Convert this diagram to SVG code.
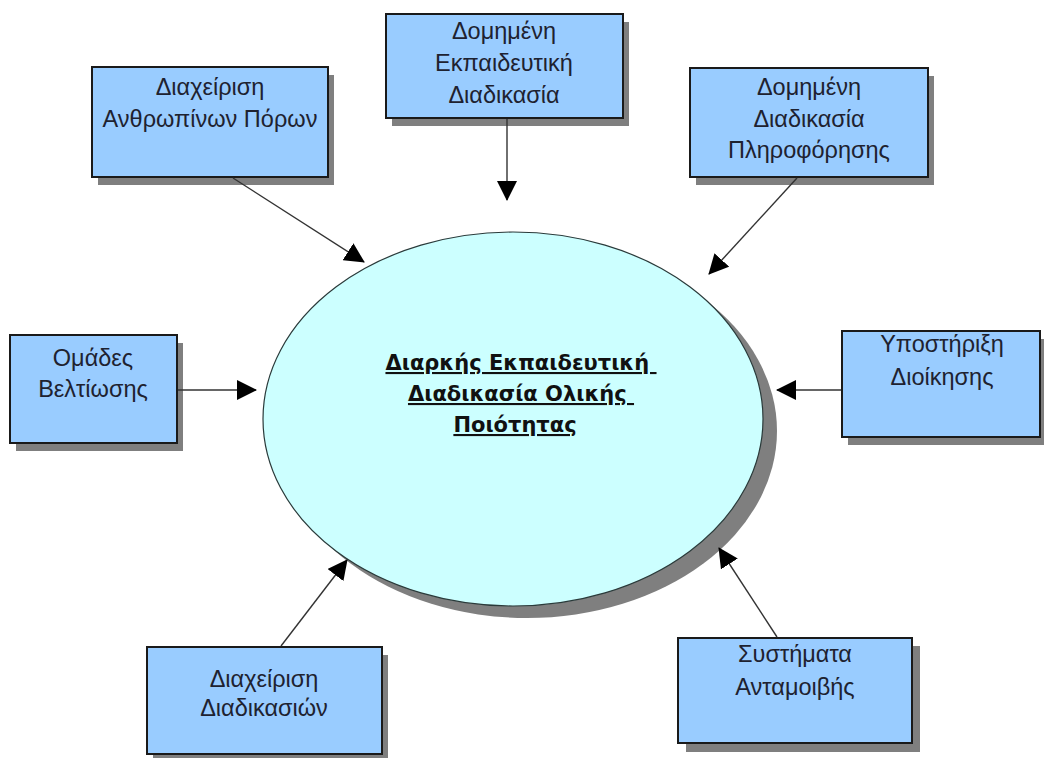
<svg xmlns="http://www.w3.org/2000/svg" width="1044" height="758" viewBox="0 0 1044 758">
  <style>
    .box { fill: #99ccff; stroke: #1a1a1a; stroke-width: 2; }
    .shadow { fill: #7f7f7f; }
    .label { font-family: "Liberation Sans", Arial, sans-serif; font-size: 23.5px; fill: #1e2230; text-anchor: middle; }
    .core { font-family: "DejaVu Sans", Verdana, sans-serif; font-size: 21px; font-weight: bold; fill: #111; text-anchor: middle; text-decoration: underline; white-space: pre; }
    .link { stroke: #333; stroke-width: 1.4; fill: none; marker-end: url(#arrow); }
  </style>
  <defs>
    <marker id="arrow" markerWidth="20" markerHeight="20" viewBox="0 0 20 20" refX="19" refY="10" orient="auto" markerUnits="userSpaceOnUse">
      <path d="M0,0 L20,10 L0,20 Z" fill="#000"/>
    </marker>
  </defs>
  <rect width="1044" height="758" fill="#fff"/>

  <!-- central process -->
  <g id="core">
    <ellipse cx="527" cy="431" rx="250" ry="187" class="shadow"/>
    <ellipse cx="513" cy="419" rx="250" ry="187" fill="#ccffff" stroke="#2a3a3a" stroke-width="1.2"/>
    <text class="core" x="521" y="370">Διαρκής Εκπαιδευτική </text>
    <text class="core" x="521" y="401">Διαδικασία Ολικής </text>
    <text class="core" x="515" y="432">Ποιότητας</text>
  </g>

  <g id="hr">
    <rect x="98" y="75" width="236" height="110" class="shadow"/>
    <rect x="92" y="67" width="236" height="110" class="box"/>
    <text class="label" x="210" y="95">Διαχείριση</text>
    <text class="label" x="210" y="127">Ανθρωπίνων Πόρων</text>
  </g>

  <g id="structured-training">
    <rect x="392" y="22" width="237" height="104" class="shadow"/>
    <rect x="386" y="14" width="237" height="104" class="box"/>
    <text class="label" x="504" y="39">Δομημένη</text>
    <text class="label" x="504" y="71">Εκπαιδευτική</text>
    <text class="label" x="504" y="103">Διαδικασία</text>
  </g>

  <g id="structured-information">
    <rect x="696" y="76" width="238" height="109" class="shadow"/>
    <rect x="690" y="68" width="238" height="109" class="box"/>
    <text class="label" x="809" y="95">Δομημένη</text>
    <text class="label" x="809" y="127">Διαδικασία</text>
    <text class="label" x="809" y="158">Πληροφόρησης</text>
  </g>

  <g id="improvement-teams">
    <rect x="16" y="343" width="167" height="108" class="shadow"/>
    <rect x="10" y="335" width="167" height="108" class="box"/>
    <text class="label" x="93" y="366">Ομάδες</text>
    <text class="label" x="93" y="397">Βελτίωσης</text>
  </g>

  <g id="management-support">
    <rect x="848" y="339" width="200" height="106" class="shadow"/>
    <rect x="842" y="331" width="198" height="106" class="box"/>
    <text class="label" x="942" y="352">Υποστήριξη</text>
    <text class="label" x="942" y="385">Διοίκησης</text>
  </g>

  <g id="process-management">
    <rect x="153" y="655" width="235" height="107" class="shadow"/>
    <rect x="147" y="647" width="235" height="107" class="box"/>
    <text class="label" x="264" y="687">Διαχείριση</text>
    <text class="label" x="264" y="716">Διαδικασιών</text>
  </g>

  <g id="reward-systems">
    <rect x="686" y="646" width="234" height="106" class="shadow"/>
    <rect x="678" y="638" width="234" height="105" class="box"/>
    <text class="label" x="795" y="662">Συστήματα</text>
    <text class="label" x="795" y="695">Ανταμοιβής</text>
  </g>

  <g id="connectors">
    <line class="link" x1="233" y1="178" x2="364" y2="262"/>
    <line class="link" x1="507" y1="119" x2="507" y2="200"/>
    <line class="link" x1="797" y1="178" x2="709" y2="274"/>
    <line class="link" x1="178" y1="390" x2="256" y2="390"/>
    <line class="link" x1="841" y1="390" x2="777" y2="390"/>
    <line class="link" x1="281" y1="646" x2="347" y2="560"/>
    <line class="link" x1="777" y1="637" x2="719" y2="548"/>
  </g>
</svg>
